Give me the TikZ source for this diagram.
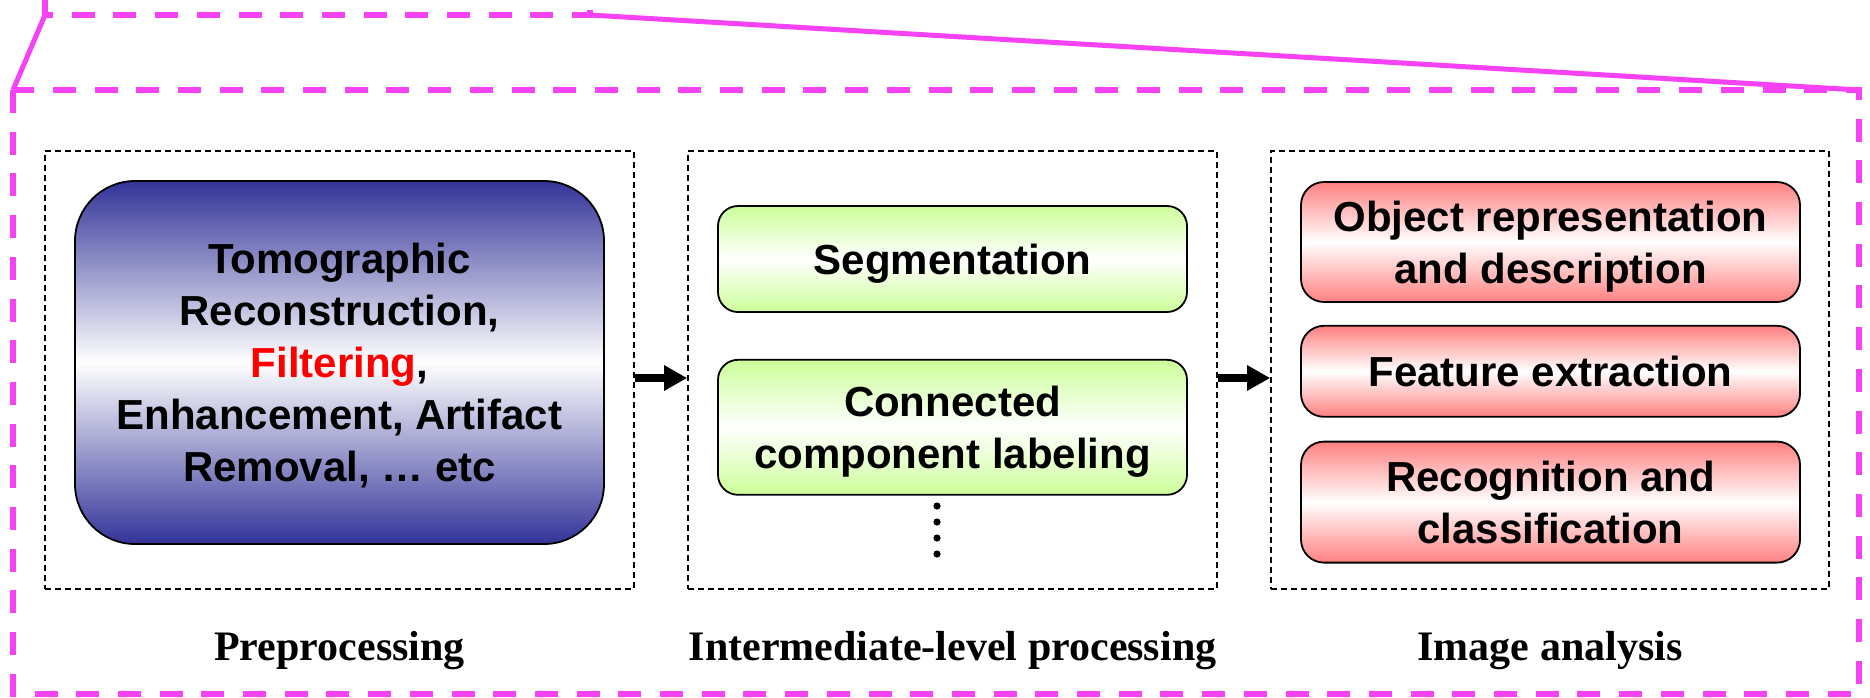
\documentclass[tikz,border=0pt]{standalone}
\usepackage{fontspec}
\setmainfont{Liberation Serif}
\setsansfont{Liberation Sans}
\usepackage{tikz}
\usetikzlibrary{shapes,arrows.meta,positioning}

\definecolor{framemag}{RGB}{245,66,245}
\definecolor{stageblue}{RGB}{51,51,153}
\definecolor{stagegreen}{RGB}{204,255,153}
\definecolor{stagered}{RGB}{255,128,128}

\begin{document}
\begin{tikzpicture}[
        x=1pt, y=-1pt,
        boxfont/.style={font=\sffamily\bfseries\fontsize{42}{52}\selectfont},
        stagebox/.style={rectangle, draw, line width=1.6pt, dash pattern=on 6pt off 4pt, inner sep=0pt, minimum height=438pt},
        prebox/.style={rectangle, draw, line width=1.8pt, rounded corners=60pt, top color=stageblue, bottom color=stageblue, middle color=white, boxfont, align=center, text depth=0pt, inner sep=0pt, minimum width=529pt, minimum height=363pt},
        greenbox/.style={rectangle, draw, line width=1.8pt, rounded corners=20pt, top color=stagegreen, bottom color=stagegreen, middle color=white, boxfont, align=center, text depth=0pt, inner sep=0pt, minimum width=469pt},
        redbox/.style={rectangle, draw, line width=1.8pt, rounded corners=23pt, top color=stagered, bottom color=stagered, middle color=white, boxfont, align=center, text depth=0pt, inner sep=0pt, minimum width=499pt},
        stagename/.style={font=\rmfamily\bfseries\fontsize{42}{50}\selectfont, anchor=base},
        bigarrow/.style={line width=8pt, -{Triangle[length=23pt,width=24pt]}},
        magdash/.style={draw=framemag, line width=6pt, dash pattern=on 23pt off 18.7pt},
        magline/.style={draw=framemag, line width=5pt}
    ]
        \useasboundingbox (0,0) rectangle (1870,697);

        % zoom frame
        \coordinate (zoomL) at (45,15);
        \coordinate (zoomR) at (590,15);
        \coordinate (frameNW) at (13,90);
        \coordinate (frameNE) at (1859,90);
        \coordinate (frameSE) at (1859,694);
        \draw[magdash] (45,0) -- (zoomL) -- (zoomR) -- (590,0);
        \draw[magline] (zoomL) -- (frameNW);
        \draw[magline] (zoomR) -- (frameNE);
        \draw[magdash] (frameNW) rectangle (frameSE);

        % stages
        \node[stagebox, minimum width=589pt] (pre) at (339.5,370) {};
        \node[stagebox, minimum width=529pt] (mid) at (952.5,370) {};
        \node[stagebox, minimum width=558pt] (ana) at (1550,370) {};

        \node[prebox] (tomo) at (339.5,362.5) {Tomographic\\Reconstruction,\\{\color{red}Filtering},\\Enhancement, Artifact\\Removal, \dots\ etc};

        \node[greenbox, minimum height=106pt] (seg) at (952.5,259) {Segmentation};
        \node[greenbox, minimum height=135pt, below=46pt of seg] (ccl) {Connected\\component labeling};
        \foreach \y in {506,522,538,554}
            \fill (937,\y) circle (3.6pt);

        \node[redbox, minimum height=120pt] (obj) at (1550.5,242) {Object representation\\and description};
        \node[redbox, minimum height=91pt, below=22pt of obj] (feat) {Feature extraction};
        \node[redbox, minimum height=121pt, below=23pt of feat] (recog) {Recognition and\\classification};

        \draw[bigarrow] ([yshift=-8pt]pre.east) -- ([yshift=-8pt]mid.west);
        \draw[bigarrow] ([yshift=-8pt]mid.east) -- ([yshift=-8pt]ana.west);

        \node[stagename] (prename) at ([yshift=-71pt]pre.south) {Preprocessing};
        \node[stagename] (midname) at ([yshift=-71pt]mid.south) {Intermediate-level processing};
        \node[stagename] (ananame) at ([yshift=-71pt]ana.south) {Image analysis};
    \end{tikzpicture}
\end{document}
